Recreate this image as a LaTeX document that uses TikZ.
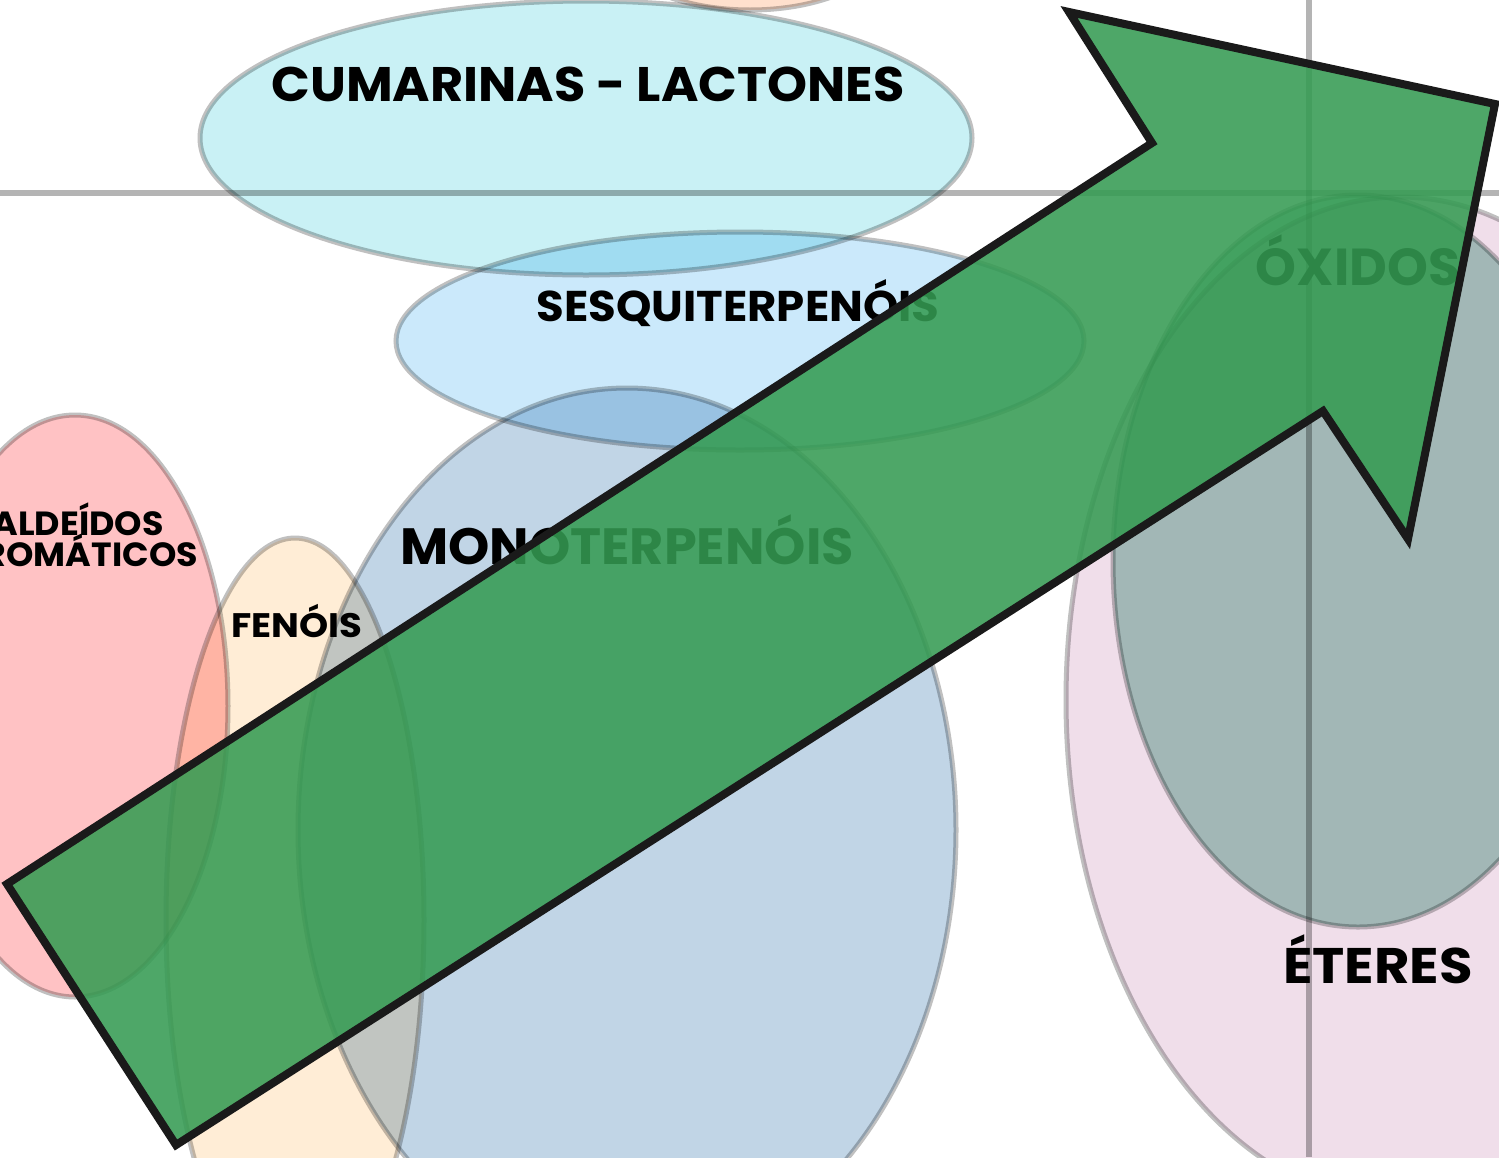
\documentclass[tikz,border=0pt]{standalone}
\usepackage{fontspec}
\setmainfont{Poppins}
\definecolor{cumcol}{HTML}{C9F1F5}
\definecolor{peachcol}{HTML}{FFE0CD}
\definecolor{sesqcol}{HTML}{CBE9FB}
\definecolor{monocol}{HTML}{C1D5E6}
\definecolor{aldcol}{HTML}{FFC2C4}
\definecolor{fencol}{HTML}{FFEDD6}
\definecolor{etecol}{HTML}{F0DEEA}
\definecolor{oxicol}{HTML}{ADD3C7}
\definecolor{edgecol}{HTML}{C0C0C0}
\definecolor{axiscol}{HTML}{B4B4B4}
\definecolor{arrowcol}{RGB}{52,155,82}
\definecolor{arrowedge}{HTML}{1A1A1A}
\tikzset{
  blob/.style={draw=edgecol, line width=5pt},
  axisline/.style={draw=axiscol, line width=6pt},
  lbl/.style={font=\bfseries, text=black, inner sep=0pt, anchor=base},
  bigarrow/.style={draw=arrowedge, line width=8pt, line join=miter, miter limit=20, fill=arrowcol, fill opacity=0.87, draw opacity=1}
}
\begin{document}
\begin{tikzpicture}[x=1pt,y=-1pt]
\clip (0,0) rectangle (1499,1157);
\fill[white] (0,0) rectangle (1499,1157);
\begin{scope}[blend mode=multiply]
  % ellipses
  \path[blob, fill=cumcol] (586,138) ellipse [x radius=386pt, y radius=137pt];
  \path[blob, fill=peachcol] (750,-60) ellipse [x radius=140pt, y radius=70pt];
  \path[blob, fill=sesqcol] (740,341) ellipse [x radius=344pt, y radius=109pt];
  \path[blob, fill=monocol] (627,830) ellipse [x radius=329pt, y radius=442pt];
  \path[blob, fill=aldcol] (75,706) ellipse [x radius=153pt, y radius=291pt];
  \path[blob, fill=fencol] (295,920) ellipse [x radius=129pt, y radius=382pt];
  \path[blob, fill=etecol] (1400,700) ellipse [x radius=334pt, y radius=503pt];
  \path[blob, fill=oxicol] (1358,561) ellipse [x radius=245pt, y radius=366pt];
  % axes
  \coordinate (hl) at (0,193);
  \coordinate (hr) at (1499,193);
  \coordinate (vt) at (1309,0);
  \coordinate (vb) at (1309,1157);
  \draw[axisline] (hl) -- (hr);
  \draw[axisline] (vt) -- (vb);
\end{scope}
% labels
\node[lbl, font=\bfseries\fontsize{48.5}{50}\selectfont] (cum) at (588,101) {\scalebox{1.05}[1]{CUMARINAS - LACTONES}};
\node[lbl, font=\bfseries\fontsize{43}{45}\selectfont] (sesq) at (738,321) {\scalebox{1.047}[1]{SESQUITERPENÓIS}};
\node[lbl, font=\bfseries\fontsize{51}{53}\selectfont] (mono) at (627,564) {\scalebox{1.03}[1]{MONOTERPENÓIS}};
\node[lbl, font=\bfseries\fontsize{33.5}{35}\selectfont] (ald1) at (78,535) {\scalebox{1.04}[1]{ALDEÍDOS}};
\node[lbl, font=\bfseries\fontsize{33.5}{35}\selectfont] (ald2) at (78,566) {\scalebox{1.04}[1]{AROMÁTICOS}};
\node[lbl, font=\bfseries\fontsize{34}{36}\selectfont] (fen) at (297,637) {\scalebox{1.09}[1]{FENÓIS}};
\node[lbl, font=\bfseries\fontsize{52}{54}\selectfont] (oxi) at (1358,285) {ÓXIDOS};
\node[lbl, font=\bfseries\fontsize{50}{52}\selectfont] (ete) at (1378,983) {\scalebox{1.09}[1]{ÉTERES}};
% arrow
\coordinate (a1) at (7,884);
\coordinate (a2) at (1152,143);
\coordinate (a3) at (1069,12);
\coordinate (a4) at (1495,104);
\coordinate (a5) at (1408,539);
\coordinate (a6) at (1323,411);
\coordinate (a7) at (176,1145);
\draw[bigarrow] (a1) -- (a2) -- (a3) -- (a4) -- (a5) -- (a6) -- (a7) -- cycle;
\end{tikzpicture}
\end{document}
